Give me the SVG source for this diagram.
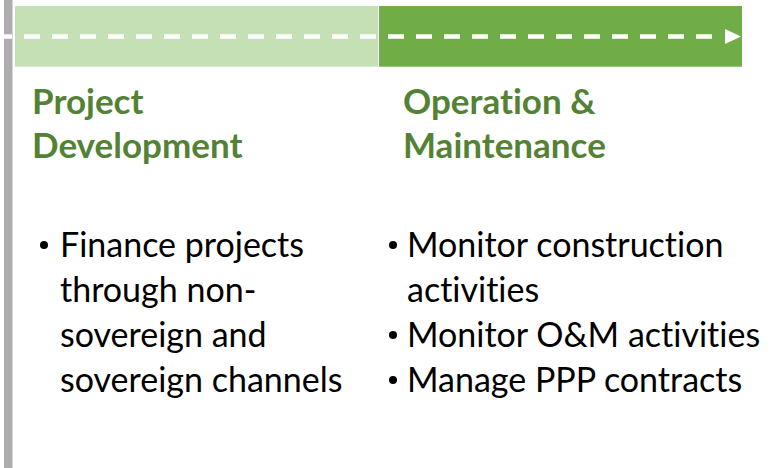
<svg xmlns="http://www.w3.org/2000/svg" width="774" height="468" viewBox="0 0 774 468">
  <style>
    .hdr { font-family: Lato, "Liberation Sans", sans-serif; font-weight: bold; font-size: 35px; fill: #548235; font-variant-ligatures: none; }
    .txt { font-family: Lato, "Liberation Sans", sans-serif; font-size: 34px; fill: #000000; font-variant-ligatures: none; }
    .dot { fill: #000000; }
  </style>
  <rect width="774" height="468" fill="#ffffff"/>
  <rect id="axis" x="4" y="0" width="8.5" height="468" fill="#ADADAD"/>
  <g id="phase-development">
    <rect x="15" y="6" width="363" height="60.7" fill="#C5E0B4"/>
    <text class="hdr" x="32" y="113.5">Project</text>
    <text class="hdr" x="32" y="157.5">Development</text>
    <circle class="dot" cx="44" cy="245" r="4"/>
    <text class="txt" x="60" y="257">Finance projects</text>
    <text class="txt" x="60" y="302">through non-</text>
    <text class="txt" x="60" y="347">sovereign and</text>
    <text class="txt" x="60" y="392">sovereign channels</text>
  </g>
  <g id="phase-operation">
    <rect x="379" y="6" width="363" height="60.7" fill="#70AD47"/>
    <text class="hdr" x="403" y="113.5">Operation &amp;</text>
    <text class="hdr" x="403" y="157.5">Maintenance</text>
    <circle class="dot" cx="393" cy="245" r="4"/>
    <text class="txt" x="407" y="257">Monitor construction</text>
    <text class="txt" x="407" y="302">activities</text>
    <circle class="dot" cx="393" cy="335" r="4"/>
    <text class="txt" x="407" y="347">Monitor O&amp;M activities</text>
    <circle class="dot" cx="393" cy="380" r="4"/>
    <text class="txt" x="407" y="392">Manage PPP contracts</text>
  </g>
  <g id="connectors">
    <line x1="0" y1="36.5" x2="724" y2="36.5" stroke="#FFFFFF" stroke-width="4.5" stroke-dasharray="16 12" stroke-dashoffset="4"/>
    <polygon points="725,29 741,36.5 725,44" fill="#FFFFFF"/>
  </g>
</svg>
